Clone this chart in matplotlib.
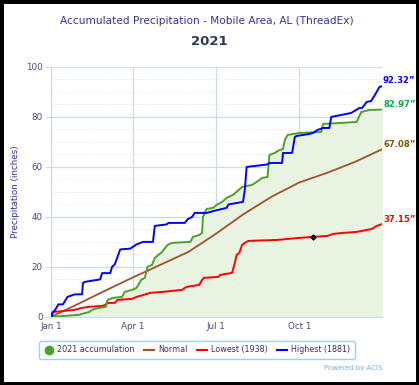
import matplotlib
matplotlib.use('Agg')
import matplotlib.pyplot as plt
from matplotlib.lines import Line2D
from matplotlib.patches import Rectangle

# day of year (0 = Jan 1) and accumulated precipitation (inches)
acc_days = [0, 15, 30, 38, 42, 45, 50, 60, 61, 62, 68, 78, 81, 89, 94, 99, 103, 106, 111, 114,
            122, 128, 133, 153, 156, 163, 166, 167, 171, 178, 182, 188, 193, 200, 210, 221,
            226, 232, 238, 240, 246, 249, 255, 257, 260, 273, 297, 299, 336, 337, 341, 350, 364]
acc_vals = [0, 0.4, 0.8, 1.6, 2, 2.8, 3.4, 4, 5.5, 6.8, 7.6, 8, 10, 10.8, 11.6, 14.8, 15.6, 20, 20.8, 23.6,
            26, 28.8, 29.6, 30, 32, 32.8, 33.6, 40, 43.2, 43.6, 44.8, 46, 47.6, 48.8, 52, 52.8,
            54, 55.6, 56, 64.8, 65.6, 66.4, 67.2, 70.8, 72.8, 73.6, 74, 77.2, 78, 78.8, 82, 82.8, 82.97]

normal_days = [0, 31, 59, 90, 120, 151, 181, 212, 243, 273, 304, 334, 364]
normal_vals = [0, 5.4, 10.4, 15.8, 20.8, 26, 33.2, 41.2, 48.2, 53.8, 57.7, 62, 67.08]

low_days = [0, 1, 4, 26, 34, 41, 57, 63, 70, 73, 89, 94, 98, 109, 123, 144, 149, 163, 166, 168,
            184, 186, 199, 202, 204, 207, 210, 213, 217, 249, 273, 288, 304, 310, 321, 336, 353, 358, 364]
low_vals = [0, 1.6, 2, 2.8, 3.6, 4, 4.4, 5.6, 5.6, 6.8, 7.2, 8, 8.4, 9.6, 10, 10.8, 12, 12.8, 14.8, 15.6,
            16, 16.8, 17.6, 21.6, 24.8, 25.6, 28.8, 29.6, 30.4, 30.8, 31.6, 32, 32.4, 33.2, 33.6, 34, 35.2, 36.4, 37.15]

high_days = [0, 1, 2, 4, 8, 13, 18, 26, 34, 35, 37, 54, 56, 65, 67, 70, 73, 76, 87, 94, 101, 112,
             114, 127, 129, 147, 150, 155, 158, 171, 180, 193, 195, 211, 213, 215, 238, 240, 254,
             255, 265, 268, 270, 284, 288, 293, 299, 306, 308, 319, 330, 339, 342, 347, 352, 356,
             358, 361, 364]
high_vals = [0, 0.5, 2, 2.5, 5, 5, 8, 9, 9, 13.5, 14, 15, 17.5, 17.5, 20, 21, 24, 27, 27.3, 29, 30, 30,
             36.4, 37, 37.6, 37.6, 39, 40, 41.6, 41.6, 42.5, 43.6, 45, 46, 50.8, 60, 61, 61.6, 61.6,
             65.6, 65.6, 72, 72.4, 73.2, 73.6, 74.8, 75.6, 75.6, 80, 80.8, 81.6, 83.6, 83.6, 86, 86.4, 88.8,
             90, 92, 92.32]

tick_days = [0, 90, 181, 273]
tick_labels = ['Jan 1', 'Apr 1', 'Jul 1', 'Oct 1']

green = '#4da02a'
brown = '#a0522d'
text_blue = '#333399'
grid_blue = '#c9dced'

fig = plt.figure(figsize=(4.19, 3.85), dpi=100)
ax = fig.add_axes([0.122, 0.177, 0.79, 0.649])

ax.fill_between(acc_days, acc_vals, 0, color='#e9f3e1', zorder=1)
ax.plot(normal_days, normal_vals, color=brown, lw=1.3, zorder=3)
ax.plot(low_days, low_vals, color='red', lw=1.4, zorder=3)
ax.plot(acc_days, acc_vals, color=green, lw=1.4, zorder=4)
ax.plot(high_days, high_vals, color='blue', lw=1.4, zorder=5)
ax.plot([288], [32], marker='D', ms=2.5, color='black', zorder=6)

# end labels
lab_kw = dict(textcoords='offset points', fontsize=6.1, fontweight='bold',
              ha='left', va='bottom', annotation_clip=False)
ax.annotate('92.32\u201d', (364, 92.32), xytext=(0, 1), color='blue', **lab_kw)
ax.annotate('82.97\u201d', (364, 82.97), xytext=(1, 0.5), color='#12a348', **lab_kw)
ax.annotate('67.08\u201d', (364, 67.08), xytext=(1, 0.5), color='#7a5a00', **lab_kw)
ax.annotate('37.15\u201d', (364, 37.15), xytext=(1, 0), color='red', **lab_kw)

ax.set_xlim(0, 364)
ax.set_ylim(0, 100)
ax.set_xticks(tick_days)
ax.set_xticklabels(tick_labels)
ax.set_yticks(range(0, 101, 20))
ax.set_yticks(range(0, 101, 5), minor=True)
ax.tick_params(axis='both', labelsize=6.3, labelcolor='#48487a', color=grid_blue)
ax.tick_params(axis='x', length=0, pad=4)
ax.tick_params(axis='y', length=4, pad=2)
ax.tick_params(axis='y', which='minor', length=0)
ax.grid(True, which='major', color=grid_blue, lw=0.9, zorder=0)
ax.grid(True, which='minor', axis='y', color='#dddddd', lw=0.6, ls=(0, (1, 2)), zorder=0)
ax.set_axisbelow(True)
for s in ['top', 'right']:
    ax.spines[s].set_visible(False)
ax.spines['left'].set_color(grid_blue)
ax.spines['bottom'].set_color(grid_blue)
ax.set_ylabel('Precipitation (inches)', fontsize=6.3, color=text_blue, labelpad=4)

fig.text(0.494, 0.945, 'Accumulated Precipitation - Mobile Area, AL (ThreadEx)',
         ha='center', va='center', fontsize=7.6, color=text_blue)
fig.text(0.5, 0.893, '2021', ha='center', va='center', fontsize=9.5, fontweight='bold', color='#2e3a55')

handles = [
    Line2D([], [], color=green, marker='o', ms=6, lw=0),
    Line2D([], [], color=brown, lw=1.5),
    Line2D([], [], color='red', lw=1.5),
    Line2D([], [], color='blue', lw=1.5),
]
labels = ['2021 accumulation', 'Normal', 'Lowest (1938)', 'Highest (1881)']
leg = fig.legend(handles, labels, loc='center', bbox_to_anchor=(0.47, 0.091), ncol=4,
                 fontsize=5.8, frameon=True, fancybox=True, edgecolor='#8ec3e6',
                 handlelength=1.2, handletextpad=0.5, columnspacing=1.2, borderpad=0.55)
for t in leg.get_texts():
    t.set_color('#333366')

fig.text(0.912, 0.045, 'Powered by ACIS', ha='right', va='center', fontsize=5, color='#7ab0dd')

# black frame around figure, drawn on the edge so half of it shows
fig.patches.append(Rectangle((0, 0), 1, 1, transform=fig.transFigure,
                             fill=False, edgecolor='black', lw=5))

fig.savefig('out.png', dpi=100)
